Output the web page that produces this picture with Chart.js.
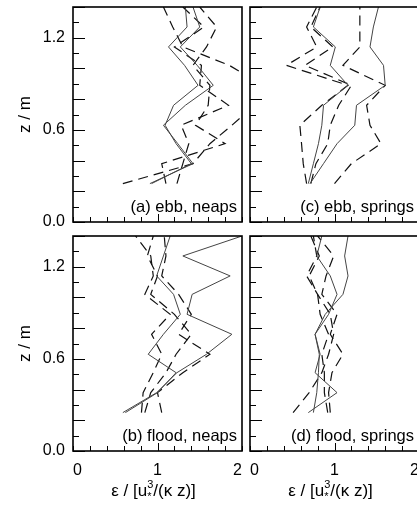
<!DOCTYPE html>
<html>
<head>
<meta charset="utf-8">
<script src="https://cdn.jsdelivr.net/npm/chart.js@4.4.1/dist/chart.umd.min.js"></script>
<style>
  html, body { margin: 0; padding: 0; background: #fff; overflow: hidden; }
  body { width: 417px; height: 517px; position: relative; }
  canvas { position: absolute; }
</style>
</head>
<body>
<canvas id="panel-a" width="250" height="229" style="left:0;top:0"></canvas>
<canvas id="panel-b" width="250" height="288" style="left:0;top:229px"></canvas>
<canvas id="panel-c" width="179" height="229" style="left:246px;top:0"></canvas>
<canvas id="panel-d" width="179" height="288" style="left:246px;top:229px"></canvas>
<script>
// heights of the measuring levels (m)
const Z_LEVELS = [0.25, 0.38, 0.51, 0.63, 0.76, 0.89, 1.02, 1.14, 1.27, 1.40];

// normalised dissipation, one row per profile, bottom to top
const EBB_NEAPS_SOLID = [
    [0.91, 1.42, 1.24, 1.07, 1.33, 1.66, 1.47, 1.27, 1.50, 1.42],
    [0.93, 1.40, 1.22, 1.09, 1.19, 1.48, 1.32, 1.13, 1.35, 1.33]
];
const EBB_NEAPS_DASHED = [
    [0.59, 1.42, 1.62, 1.88, 2.15, 2.25, 1.85, 1.30, 1.18, 1.07],
    [1.23, 1.30, 1.37, 1.28, 1.84, 1.50, 1.52, 1.20, 1.55, 1.30],
    [1.10, 1.05, 1.80, 1.45, 1.60, 1.62, 1.42, 1.58, 1.70, 1.50]
];
const FLOOD_NEAPS_SOLID = [
    [0.59, 0.99, 1.23, 1.58, 1.88, 1.35, 1.41, 1.86, 1.30, 2.00],
    [0.62, 1.00, 1.22, 0.89, 1.07, 1.27, 1.19, 0.99, 1.07, 1.15]
];
const FLOOD_NEAPS_DASHED = [
    [0.81, 0.83, 0.95, 1.05, 0.93, 1.15, 0.85, 0.95, 0.92, 0.74],
    [1.05, 1.00, 1.30, 1.62, 1.25, 1.40, 1.25, 1.05, 1.10, 1.08],
    [0.85, 0.92, 1.10, 1.22, 1.40, 1.20, 0.92, 1.00, 0.88, 0.95]
];
const EBB_SPRINGS_SOLID = [
    [0.69, 0.75, 0.81, 0.85, 0.87, 1.16, 0.95, 1.01, 0.75, 0.83],
    [0.71, 0.87, 1.03, 1.24, 1.26, 1.60, 1.58, 1.42, 1.46, 1.52]
];
const EBB_SPRINGS_DASHED = [
    [0.67, 0.63, 0.61, 0.59, 0.85, 1.16, 0.43, 0.79, 0.67, 0.79],
    [1.00, 1.20, 1.55, 1.42, 1.38, 1.60, 1.10, 1.30, 1.30, 1.30],
    [0.72, 0.78, 0.92, 0.95, 1.05, 1.20, 0.65, 0.98, 0.72, 0.83]
];
const FLOOD_SPRINGS_SOLID = [
    [0.69, 1.03, 0.77, 0.83, 0.77, 0.89, 1.10, 1.16, 1.12, 1.16],
    [0.75, 0.79, 0.81, 0.82, 0.77, 0.93, 1.03, 0.95, 0.79, 0.85]
];
const FLOOD_SPRINGS_DASHED = [
    [0.51, 0.70, 0.85, 0.93, 0.99, 0.95, 0.80, 0.67, 0.79, 0.75],
    [0.95, 0.93, 0.97, 1.10, 0.95, 1.03, 0.85, 0.90, 0.99, 0.80],
    [0.92, 0.88, 0.88, 0.85, 0.93, 0.83, 0.80, 0.70, 0.82, 0.72]
];

const PANEL_LABELS = ['(a) ebb, neaps', '(b) flood, neaps', '(c) ebb, springs', '(d) flood, springs'];

// tick marks (inside the frame) and labelled ticks
const Y_TICK_MARKS = [0.0, 0.1, 0.2, 0.3, 0.4, 0.5, 0.6, 0.7, 0.8, 0.9, 1.0, 1.1, 1.2, 1.3, 1.4];
const X_TICK_MARKS = [0.0, 0.2, 0.4, 0.6, 0.8, 1.0, 1.2, 1.4, 1.6, 1.8, 2.0];
const Y_LABEL_STEP = 0.6;
const X_LABEL_STEP = 1;

const Y_TITLE = 'z / m';
// x title pieces: text, superscript, subscript, text
const X_TITLE = ['\u03b5 / [u', '3', '*', '/(\u03ba z)]'];

const FONT = '"Liberation Sans", Arial, sans-serif';

/**
 * Frame and inward tick marks
 */
const frameTicks = {
    id: 'frameTicks',
    afterDatasetsDraw(chart) {
        let ctx = chart.ctx, a = chart.chartArea,
            x = chart.scales.x, y = chart.scales.y;
        ctx.save();
        ctx.strokeStyle = '#000';
        ctx.lineWidth = 1;
        ctx.beginPath();
        for (let v of Y_TICK_MARKS) {
            let py = Math.round(y.getPixelForValue(v)) + 0.5;
            let len = Math.round(v * 10) % 2 === 0 ? 12 : 6;
            ctx.moveTo(a.left, py);
            ctx.lineTo(a.left + len, py);
        }
        for (let v of X_TICK_MARKS) {
            let px = Math.round(x.getPixelForValue(v)) + 0.5;
            let len = Math.abs(v - 1) < 1e-6 ? 8 : 5;
            ctx.moveTo(px, a.bottom);
            ctx.lineTo(px, a.bottom - len);
        }
        ctx.stroke();
        ctx.lineWidth = 1.6;
        ctx.strokeRect(a.left, a.top, a.right - a.left, a.bottom - a.top);
        ctx.restore();
    }
};

/**
 * Panel caption in the lower right corner
 */
const panelLabel = {
    id: 'panelLabel',
    afterDraw(chart, args, opts) {
        let ctx = chart.ctx, a = chart.chartArea;
        ctx.save();
        ctx.fillStyle = '#000';
        ctx.font = '16.5px ' + FONT;
        ctx.textAlign = 'right';
        ctx.textBaseline = 'alphabetic';
        ctx.fillText(opts.text, a.right - 5, a.bottom - 10);
        ctx.restore();
    }
};

/**
 * x axis title with the stacked u*^3
 */
const xTitle = {
    id: 'xTitle',
    afterDraw(chart, args, opts) {
        if (!opts.show)
            return;
        let ctx = chart.ctx, a = chart.chartArea;
        let big = '17px ' + FONT, small = '11px ' + FONT;
        ctx.save();
        ctx.fillStyle = '#000';
        ctx.textBaseline = 'alphabetic';
        ctx.textAlign = 'left';
        ctx.font = big;
        let w1 = ctx.measureText(X_TITLE[0]).width,
            w4 = ctx.measureText(X_TITLE[3]).width;
        ctx.font = small;
        let w2 = Math.max(ctx.measureText(X_TITLE[1]).width, ctx.measureText(X_TITLE[2]).width);
        let total = w1 + w2 + w4;
        let x0 = (a.left + a.right) / 2 - 4 - total / 2;
        let base = a.bottom + 45;
        ctx.font = big;
        ctx.fillText(X_TITLE[0], x0, base);
        ctx.font = small;
        ctx.fillText(X_TITLE[1], x0 + w1, base - 8);
        ctx.fillText(X_TITLE[2], x0 + w1, base + 4);
        ctx.font = big;
        ctx.fillText(X_TITLE[3], x0 + w1 + w2, base);
        ctx.restore();
    }
};

function profile(values, dashed) {
    return {
        data: values.map((v, i) => ({ x: v, y: Z_LEVELS[i] })),
        borderColor: dashed ? '#111' : '#444',
        borderWidth: dashed ? 1.2 : 1,
        borderDash: dashed ? [10, 6] : [],
        pointRadius: 0,
        tension: 0,
        fill: false,
        clip: 0
    };
}

function makePanel(canvasId, solid, dashed, label, showX, showY) {
    let datasets = [];
    solid.forEach(v => datasets.push(profile(v, false)));
    dashed.forEach(v => datasets.push(profile(v, true)));

    return new Chart(document.getElementById(canvasId), {
        type: 'line',
        data: { datasets: datasets },
        options: {
            responsive: false,
            animation: false,
            events: [],
            layout: {
                padding: {
                    top: 7,
                    right: showY ? 8 : 6,
                    left: showY ? 0 : 4,
                    bottom: showX ? 0 : 7
                }
            },
            plugins: {
                legend: { display: false },
                tooltip: { enabled: false },
                panelLabel: { text: label },
                xTitle: { show: showX }
            },
            scales: {
                x: {
                    type: 'linear',
                    min: 0,
                    max: 2,
                    display: showX,
                    grid: { display: false, drawTicks: false },
                    border: { display: false },
                    ticks: {
                        stepSize: X_LABEL_STEP,
                        align: 'inner',
                        padding: 10,
                        color: '#000',
                        font: { family: FONT, size: 16 },
                        callback: v => String(v)
                    },
                    afterFit: s => {
                        if (!showX)
                            return;
                        s.height = 66;
                        s.paddingLeft = 0;
                        s.paddingRight = 0;
                    }
                },
                y: {
                    type: 'linear',
                    min: 0,
                    max: 1.4,
                    display: showY,
                    grid: { display: false, drawTicks: false },
                    border: { display: false },
                    ticks: {
                        stepSize: Y_LABEL_STEP,
                        includeBounds: false,
                        padding: 8,
                        color: '#000',
                        font: { family: FONT, size: 16 },
                        callback: v => v.toFixed(1)
                    },
                    title: {
                        display: true,
                        text: Y_TITLE,
                        color: '#000',
                        font: { family: FONT, size: 17 },
                        padding: { top: 15, bottom: 0 }
                    },
                    afterFit: s => {
                        if (!showY)
                            return;
                        s.width = 73;
                        s.paddingTop = 0;
                        s.paddingBottom = 0;
                    }
                }
            }
        },
        plugins: [frameTicks, panelLabel, xTitle]
    });
}

makePanel('panel-a', EBB_NEAPS_SOLID, EBB_NEAPS_DASHED, PANEL_LABELS[0], false, true);
makePanel('panel-b', FLOOD_NEAPS_SOLID, FLOOD_NEAPS_DASHED, PANEL_LABELS[1], true, true);
makePanel('panel-c', EBB_SPRINGS_SOLID, EBB_SPRINGS_DASHED, PANEL_LABELS[2], false, false);
makePanel('panel-d', FLOOD_SPRINGS_SOLID, FLOOD_SPRINGS_DASHED, PANEL_LABELS[3], true, false);
</script>
</body>
</html>
